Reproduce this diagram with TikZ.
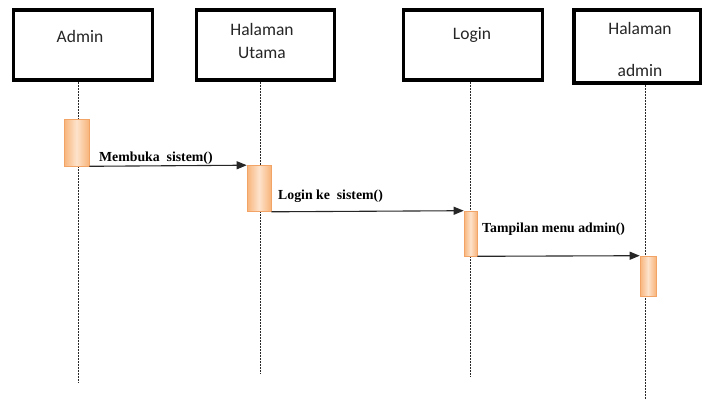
\documentclass[tikz,border=0pt]{standalone}
\usepackage{fontspec}
\setmainfont{Liberation Serif}
\newfontfamily\boxfont{Carlito}
\usetikzlibrary{arrows.meta}
\definecolor{actedge}{HTML}{F2A366}
\definecolor{actdark}{HTML}{F8B47A}
\definecolor{actlight}{HTML}{FDE3CC}
\definecolor{lifegray}{HTML}{282828}
\begin{document}
\begin{tikzpicture}[x=1pt,y=-1pt,
  objbox/.style={draw=black,line width=3.6pt,fill=white,minimum height=70pt,inner sep=0pt},
  objlabel/.style={font=\boxfont\fontsize{17.5}{20}\selectfont,inner sep=0pt,text=black!85},
  lifeline/.style={draw=lifegray,line width=0.9pt,dash pattern=on 2pt off 1pt},
  actbox/.style={draw=actedge,line width=0.6pt,inner sep=0pt,
    left color=actdark,right color=actdark,middle color=actlight},
  msg/.style={draw=black!85,line width=1.1pt,-{Triangle[length=10pt,width=8pt]}},
  msglabel/.style={font=\bfseries\fontsize{13.8}{16}\selectfont,inner sep=0pt,anchor=base west}]
\useasboundingbox (0,0) rectangle (702,399);

% objects
\node[objbox,minimum width=139pt] (admin) at (83,45) {};
\node[objlabel] (adminT) at (80,36) {Admin};
\node[objbox,minimum width=138pt] (utama) at (265.5,45) {};
\node[objlabel] (utamaT1) at (262,29) {Halaman};
\node[objlabel] (utamaT2) at (262,53) {Utama};
\node[objbox,minimum width=139pt] (login) at (473,45) {};
\node[objlabel] (loginT) at (472,35) {Login};
\node[objbox,minimum width=127pt,minimum height=73pt] (hadmin) at (637.5,46.5) {};
\node[objlabel] (hadminT1) at (640,28) {Halaman};
\node[objlabel] (hadminT2) at (640,70) {admin};

% lifeline ends
\coordinate (adminend) at (78,383);
\coordinate (utamaend) at (260,373);
\coordinate (loginend) at (470,377);
\coordinate (hadminend) at (645,399);

\draw[lifeline] (admin.south -| adminend) -- (adminend);
\draw[lifeline] (utama.south -| utamaend) -- (utamaend);
\draw[lifeline] (login.south -| loginend) -- (loginend);
\draw[lifeline] (hadmin.south -| hadminend) -- (hadminend);

% activations
\node[actbox,minimum width=25pt,minimum height=47pt] (actA) at (76.5,142.5) {};
\node[actbox,minimum width=24pt,minimum height=46pt] (actU) at (259,188.5) {};
\node[actbox,minimum width=13pt,minimum height=45pt] (actL) at (470.5,233.5) {};
\node[actbox,minimum width=16pt,minimum height=40pt] (actH) at (648,276) {};

% messages
\draw[msg] (actA.south east) -- (actU.north west);
\node[msglabel] (m1) at (99,161) {Membuka\ \ sistem()};
\draw[msg] (actU.south east) -- (actL.north west);
\node[msglabel] (m2) at (278,199) {Login ke\ \ sistem()};
\draw[msg] (actL.south east) -- (actH.north west);
\node[msglabel] (m3) at (482,232) {Tampilan menu admin()};
\end{tikzpicture}
\end{document}
